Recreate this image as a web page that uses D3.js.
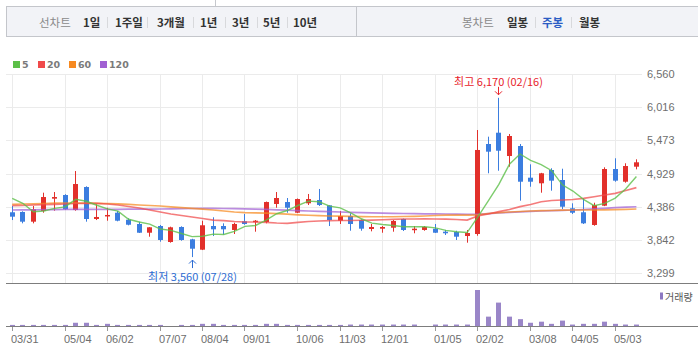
<!DOCTYPE html>
<html><head><meta charset="utf-8">
<script src="https://cdn.jsdelivr.net/npm/d3@7"></script>
<style>body{margin:0;background:#fff}svg{display:block}</style>
</head><body><svg id="c" width="698" height="358"></svg>
<script>
const weeks = ["03/31","04/07","04/14","04/21","04/28","05/04","05/11","05/18","05/26","06/02","06/09","06/16","06/23","06/30","07/07","07/14","07/21","07/28","08/04","08/11","08/18","08/25","09/01","09/08","09/15","09/22","09/29","10/06","10/13","10/20","10/27","11/03","11/10","11/17","11/24","12/01","12/08","12/15","12/22","12/29","01/05","01/12","01/19","01/26","02/02","02/09","02/16","02/23","03/02","03/08","03/15","03/22","03/29","04/05","04/12","04/19","04/26","05/03","05/10","05/17"];
const open  = [4294,4299,4140,4315,4517,4577,4331,4708,4184,4233,4287,4172,4102,3959,4069,3807,4053,3851,3681,4069,4069,4004,4146,4135,4135,4430,4462,4287,4441,4495,4408,4156,4233,4167,4020,4025,4041,4184,4015,4004,4025,3976,3971,3905,3938,5413,5598,5216,5380,4861,4769,4987,4823,4359,4294,4086,4402,5003,4795,5041];
const high  = [4397,4310,4397,4615,4626,4590,4970,4720,4425,4369,4315,4195,4140,4050,4086,4058,4064,3860,4156,4212,4113,4123,4266,4167,4470,4626,4528,4520,4594,4676,4410,4315,4277,4178,4102,4069,4167,4190,4069,4069,4102,4004,3992,4004,5642,5533,6170,5577,5413,5080,4940,5015,5008,4441,4523,4451,5031,5179,5097,5162];
const low   = [4167,4113,4113,4287,4320,4335,4320,4140,4167,4156,4146,4080,3955,3894,3812,3796,3828,3560,3675,3905,3927,3938,4090,3976,4113,4369,4287,4280,4413,4397,4069,4102,3992,3992,3982,3959,3976,3987,3950,3992,3955,3922,3840,3796,3910,4933,4975,5041,4484,4713,4615,4648,4348,4266,4102,4074,4395,4795,4779,4998];
const close = [4222,4140,4343,4544,4544,4343,4757,4184,4217,4250,4156,4090,3959,4048,3840,4048,3840,3697,4081,4015,4015,4102,4102,4156,4462,4528,4369,4511,4511,4413,4167,4233,4102,4025,4053,4053,4151,4004,4025,4053,3959,3950,3894,3954,5315,5287,5303,5544,4795,4795,4933,4812,4385,4287,4113,4413,5003,4812,5052,5113];
const volume = [3,3,3,3,3,3,9,9,3,6,3,3,3,3,3,0,3,3,6,6,3,3,3,3,6,6,3,3,3,3,3,3,4,4,4,4,4,4,4,0,4,4,4,4,100,26,65,26,19,9,12,6,15,4,6,6,12,6,4,4];
const ma5   = [4523,4441,4303,4315,4359,4383,4506,4474,4409,4350,4313,4179,4134,4101,4019,3997,3947,3895,3901,3936,3930,3982,4063,4078,4167,4270,4323,4405,4476,4466,4394,4367,4285,4188,4116,4093,4077,4057,4057,4057,4038,3998,3976,3962,4214,4480,4751,5081,5249,5145,5074,4976,4744,4642,4506,4402,4440,4526,4679,4879];
const ma20  = [4402,4405,4413,4418,4425,4430,4438,4441,4441,4430,4413,4389,4364,4331,4299,4266,4241,4217,4192,4167,4156,4143,4135,4135,4127,4118,4113,4127,4143,4151,4156,4159,4159,4163,4167,4172,4179,4184,4184,4187,4184,4181,4176,4167,4233,4266,4304,4340,4386,4422,4467,4487,4495,4503,4523,4549,4577,4605,4651,4697];
const ma60  = [4425,4430,4433,4438,4443,4446,4446,4443,4441,4438,4431,4423,4413,4405,4397,4384,4371,4358,4345,4331,4315,4299,4289,4284,4279,4272,4263,4253,4245,4240,4233,4230,4226,4223,4221,4221,4221,4225,4228,4233,4241,4249,4249,4249,4253,4274,4289,4299,4307,4315,4320,4323,4328,4331,4331,4331,4335,4338,4343,4348];
const ma120 = [4331,4333,4335,4336,4338,4340,4340,4341,4341,4343,4343,4345,4346,4346,4348,4351,4354,4356,4359,4358,4356,4353,4349,4345,4340,4335,4328,4322,4315,4310,4305,4299,4292,4287,4284,4281,4277,4274,4272,4269,4267,4266,4264,4262,4261,4271,4282,4292,4302,4310,4315,4320,4326,4331,4340,4351,4359,4369,4377,4385];
const yTicks = [6560,6016,5473,4929,4386,3842,3299];
const xTickLabels = ["03/31","05/04","06/02","07/07","08/04","09/01","10/06","11/03","12/01","01/05","02/02","03/08","04/05","05/03"];
const maNames = ["5","20","60","120"];
const maColors = ["#5cbf48","#f04a4a","#f7891f","#a160d2"];
const toolLeft = ["선차트","1일","1주일","3개월","1년","3년","5년","10년"];
const toolRight = ["봉차트","일봉","주봉","월봉"];

const KR = "'Noto Sans CJK KR','Noto Sans',sans-serif";
const svg = d3.select("#c");
const RED = "#e2302b", BLUE = "#3b7ddf";

// toolbar
svg.append("line").attr("x1",215.5).attr("x2",215.5).attr("y1",0).attr("y2",6).attr("stroke","#c6c8cd");
svg.append("rect").attr("x",6.5).attr("y",6.5).attr("width",700).attr("height",30)
  .attr("fill","#f2f3f7").attr("stroke","#c4c6cb");
svg.append("line").attr("x1",356.5).attr("x2",356.5).attr("y1",6.5).attr("y2",36.5).attr("stroke","#c4c6cb");
const tlX = [39,83,115,157,200,232,263,293];
const tlSep = [107,147,193,225,257,287];
const trX = [462,507,542,579];
const trSep = [535,571];
function tool(list, xs, sel){
  list.forEach((t,i)=>{
    svg.append("text").attr("x",xs[i]).attr("y",22).attr("dominant-baseline","central")
      .attr("font-family",KR).attr("font-size",11.5)
      .attr("font-weight", i===0 ? "normal" : "bold")
      .attr("fill", i===0 ? "#8a8a8a" : (t===sel ? "#2b5cc4" : "#333"))
      .text(t);
  });
}
tool(toolLeft, tlX, null);
tool(toolRight, trX, "주봉");
tlSep.concat(trSep).forEach(sx=>{
  svg.append("line").attr("x1",sx+0.5).attr("x2",sx+0.5).attr("y1",17).attr("y2",28).attr("stroke","#d8d9dc");
});

// legend
const lgX = [13,38,69,100];
maNames.forEach((n,i)=>{
  svg.append("rect").attr("x",lgX[i]).attr("y",61).attr("width",7).attr("height",7).attr("fill",maColors[i]);
  svg.append("text").attr("x",lgX[i]+9).attr("y",64.5).attr("dominant-baseline","central")
    .attr("font-family","'DejaVu Sans',sans-serif").attr("font-weight","bold").attr("font-size",9.5)
    .attr("fill","#7a7a7a").text(n);
});

// scales
const x = d3.scalePoint().domain(weeks).range([11.7, 635.9]);
const y = d3.scaleLinear().domain([3299,6560]).range([273,74]);
const vy = d3.scaleLinear().domain([0,100]).range([326,290]);
const px = w => Math.round(x(w));

// grid
const g = svg.append("g");
yTicks.forEach(t=>{
  const yy = Math.round(y(t))+0.5;
  g.append("line").attr("x1",6).attr("x2",642).attr("y1",yy).attr("y2",yy).attr("stroke","#ebebeb");
  svg.append("text").attr("x",647).attr("y",y(t)).attr("dominant-baseline","central")
    .attr("font-family","'Liberation Sans',Arial,sans-serif").attr("font-size",11).attr("fill","#6e6e6e")
    .text(d3.format(",")(t));
});
xTickLabels.forEach(w=>{
  const xx = px(w)+0.5;
  g.append("line").attr("x1",xx).attr("x2",xx).attr("y1",74).attr("y2",283).attr("stroke","#ebebeb");
  svg.append("line").attr("x1",xx).attr("x2",xx).attr("y1",326).attr("y2",331).attr("stroke","#999");
  svg.append("text").attr("x",px(w)-1).attr("y",338.5).attr("dominant-baseline","central")
    .attr("font-family","'Liberation Sans',Arial,sans-serif").attr("font-size",11).attr("fill","#6e6e6e").text(w);
});
svg.append("line").attr("x1",6).attr("x2",698).attr("y1",283.5).attr("y2",283.5).attr("stroke","#7d7d7d");
svg.append("line").attr("x1",6).attr("x2",698).attr("y1",326.5).attr("y2",326.5).attr("stroke","#7d7d7d");

// candles
const cg = svg.append("g");
weeks.forEach((w,i)=>{
  const cx = px(w);
  const col = close[i] >= open[i] ? RED : BLUE;
  const yh = y(high[i]), yl = y(low[i]);
  cg.append("rect").attr("x",cx).attr("y",yh).attr("width",1).attr("height",Math.max(1,yl-yh)).attr("fill",col);
  const yt = y(Math.max(open[i],close[i])), yb = y(Math.min(open[i],close[i]));
  cg.append("rect").attr("x",cx-2).attr("y",yt).attr("width",5).attr("height",Math.max(1.5,yb-yt)).attr("fill",col);
});

// moving averages
const line = d3.line().x((d,i)=>x(weeks[i])+0.5).y(d=>y(d));
[ma120, ma60, ma20, ma5].forEach((arr,k)=>{
  const idx = 3-k;
  svg.append("path").attr("d",line(arr)).attr("fill","none").attr("stroke",maColors[idx])
    .attr("stroke-width",idx===0?1.4:1.7).attr("stroke-opacity",idx===0?0.8:0.72);
});

// volume
weeks.forEach((w,i)=>{
  if(volume[i] <= 0) return;
  const cx = px(w);
  svg.append("rect").attr("x",cx-2).attr("y",vy(volume[i])).attr("width",5)
    .attr("height",326-vy(volume[i])).attr("fill","#9a86c8");
});
svg.append("rect").attr("x",660).attr("y",292.5).attr("width",3).attr("height",7).attr("fill","#8c78c2");
svg.append("text").attr("x",665).attr("y",296.5).attr("dominant-baseline","central")
  .attr("font-family",KR).attr("font-size",10).attr("fill","#555").text("거래량");

// annotations
const fmt = d3.format(",");
const hi = d3.maxIndex(high), lo = d3.minIndex(low);
const hx = px(weeks[hi])+0.5, hy = y(high[hi]);
svg.append("path").attr("d",`M${hx},${hy-11}L${hx},${hy-3}M${hx-3.5},${hy-6.5}L${hx},${hy-3}L${hx+3.5},${hy-6.5}`)
  .attr("stroke","#e8232b").attr("fill","none");
svg.append("text").attr("x",hx).attr("y",hy-17).attr("text-anchor","middle").attr("dominant-baseline","central")
  .attr("font-family",KR).attr("font-size",11).attr("fill","#e8232b")
  .text(`최고 ${fmt(high[hi])} (${weeks[hi]})`);
const lx = px(weeks[lo])+0.5, ly = y(low[lo]);
svg.append("path").attr("d",`M${lx},${ly+11}L${lx},${ly+3}M${lx-3.5},${ly+6.5}L${lx},${ly+3}L${lx+3.5},${ly+6.5}`)
  .attr("stroke","#2c6bd2").attr("fill","none");
svg.append("text").attr("x",lx).attr("y",ly+19).attr("text-anchor","middle").attr("dominant-baseline","central")
  .attr("font-family",KR).attr("font-size",11).attr("fill","#2c6bd2")
  .text(`최저 ${fmt(low[lo])} (${weeks[lo]})`);
</script></body></html>
